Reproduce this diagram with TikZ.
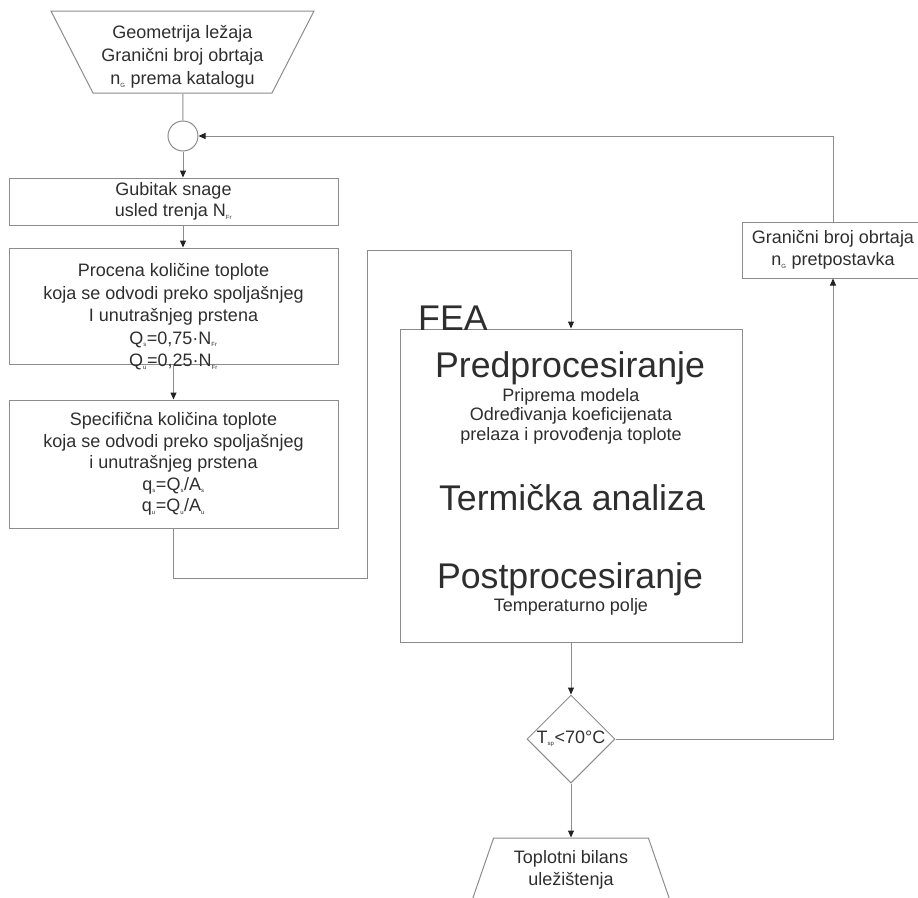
\documentclass[tikz,border=0pt]{standalone}
\usepackage{fontspec}
\setmainfont{Liberation Sans}
\usetikzlibrary{shapes.geometric,arrows.meta}
\definecolor{linegray}{HTML}{8C8C8C}
\definecolor{textgray}{HTML}{2E2E2E}
\definecolor{tipgray}{HTML}{222222}
\newcommand{\lowidx}[1]{\textsubscript{\fontsize{6}{6}\selectfont #1}}
\newcommand{\dropped}[2]{\raisebox{-#1}[\height][\depth]{\begin{tabular}{@{}c@{}}#2\end{tabular}}}
\tikzset{
  txt/.style={text=textgray, font=\fontsize{18}{21.5}\selectfont, align=center, inner sep=0pt},
  bigtxt/.style={text=textgray, font=\fontsize{35.7}{40}\selectfont, inner sep=0pt},
  block/.style={txt, draw=linegray, line width=1pt, rectangle},
  io/.style={txt, draw=linegray, line width=1pt, trapezium, trapezium left angle=60,
    trapezium right angle=60, trapezium stretches body},
  flow/.style={draw=linegray, line width=1pt, -{Triangle[length=7pt,width=6pt,color=tipgray]}},
  link/.style={draw=linegray, line width=1pt},
}
\begin{document}
\begin{tikzpicture}[x=1pt,y=-1pt]
\path[use as bounding box, clip] (0,0) rectangle (918,897);
% input, join and left column
\node[io, shape border rotate=180, minimum width=263, minimum height=82,
  font=\fontsize{18}{23}\selectfont] (geom) at (182.5,52)
  {\rule{0pt}{23pt}Geometrija ležaja\\Granični broj obrtaja\\n\lowidx{G} prema katalogu};
\node[draw=linegray, line width=1pt, circle, minimum size=30, inner sep=0pt] (join) at (183,136) {};
\node[block, minimum width=329, minimum height=47] (gub) at (173.5,201.5)
  {Gubitak snage\\usled trenja N\lowidx{Fr}};
\node[block, minimum width=329, minimum height=116, font=\fontsize{18}{22.5}\selectfont] (proc) at (173.5,306)
  {\dropped{11pt}{Procena količine toplote\\koja se odvodi preko spoljašnjeg\\I unutrašnjeg prstena\\Q\lowidx{s}=0,75·N\lowidx{Fr}\\Q\lowidx{u}=0,25·N\lowidx{Fr}}};
\node[block, minimum width=329, minimum height=128] (spec) at (173.5,464)
  {Specifična količina toplote\\koja se odvodi preko spoljašnjeg\\i unutrašnjeg prstena\\q\lowidx{s}=Q\lowidx{s}/A\lowidx{s}\\q\lowidx{u}=Q\lowidx{u}/A\lowidx{u}};
% FEA block
\node[block, minimum width=342, minimum height=313] (fea) at (571,485.5) {};
\node[bigtxt, anchor=base west] (fealbl) at (418,330) {FEA};
\node[bigtxt, anchor=base] (pre) at (570,377) {Predprocesiranje};
\node[txt, font=\fontsize{18}{19.5}\selectfont] (preinfo) at (571,416)
  {Priprema modela\\Određivanja koeficijenata\\prelaza i provođenja toplote};
\node[bigtxt, anchor=base] (term) at (572,510) {Termička analiza};
\node[bigtxt, anchor=base] (post) at (570,588) {Postprocesiranje};
\node[txt] (field) at (571,607) {Temperaturno polje};
% check and loop
\node[block, minimum width=182, minimum height=56] (guess) at (833,250)
  {Granični broj obrtaja\\n\lowidx{G} pretpostavka};
\node[txt, draw=linegray, line width=1pt, diamond, aspect=1, minimum width=88,
  minimum height=88] (dia) at (571,739) {T\lowidx{sp}<70°C};
\node[io, minimum width=199, minimum height=64] (out) at (571,870)
  {Toplotni bilans\\uležištenja};
\coordinate (lowturn) at (367,578);
\coordinate (highturn) at (367,250);
\draw[link] (geom) -- (join);
\draw[flow] (join) -- (join |- gub.north);
\draw[flow] (gub.south -| join) -- (proc.north -| join);
\draw[flow] (proc) -- (spec);
\draw[flow] (spec.south) |- (lowturn) -- (highturn) -| (fea.north);
\draw[flow] (fea) -- (dia);
\draw[flow] (dia.east) -| (guess.south);
\draw[flow] (guess.north) |- (join.east);
\draw[flow] (dia) -- (out);
\end{tikzpicture}
\end{document}
